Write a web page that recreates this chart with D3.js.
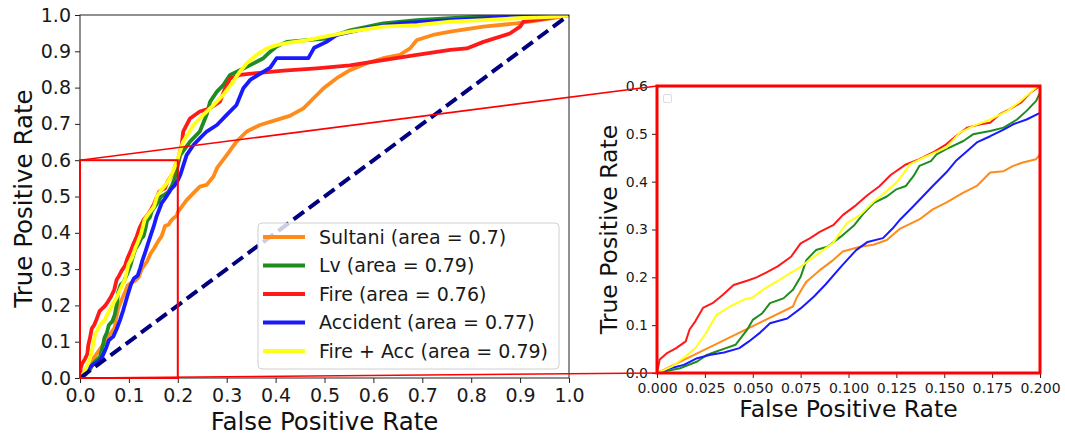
<!DOCTYPE html>
<html>
<head>
<meta charset="utf-8">
<script src="https://cdn.jsdelivr.net/npm/d3@7"></script>
<style>
  body { margin: 0; background: #fff; }
  svg { display: block; font-family: "DejaVu Sans", sans-serif; }
</style>
</head>
<body>
<div id="chart"></div>
<script>
// ROC points [false positive rate, true positive rate]
const sultani = [[0,0],[0.071,0.139],[0.073,0.158],[0.078,0.191],[0.085,0.215],[0.092,0.236],[0.097,0.254],[0.106,0.264],[0.113,0.268],[0.12,0.278],[0.127,0.302],[0.137,0.321],[0.144,0.342],[0.151,0.356],[0.16,0.377],[0.167,0.391],[0.174,0.419],[0.181,0.422],[0.186,0.433],[0.191,0.44],[0.198,0.447],[0.2,0.457],[0.218,0.49],[0.245,0.527],[0.259,0.532],[0.273,0.555],[0.28,0.578],[0.3,0.614],[0.32,0.651],[0.341,0.679],[0.368,0.697],[0.402,0.711],[0.429,0.722],[0.457,0.743],[0.477,0.77],[0.498,0.798],[0.525,0.826],[0.552,0.848],[0.586,0.867],[0.62,0.881],[0.654,0.89],[0.675,0.908],[0.689,0.931],[0.722,0.945],[0.757,0.954],[0.825,0.968],[0.893,0.977],[0.941,0.986],[0.988,0.996],[1,1]];

const lv = [[0,0],[0.012,0.01],[0.021,0.024],[0.026,0.038],[0.031,0.045],[0.036,0.052],[0.041,0.059],[0.047,0.09],[0.05,0.111],[0.055,0.125],[0.059,0.146],[0.066,0.156],[0.071,0.174],[0.075,0.201],[0.078,0.236],[0.083,0.257],[0.089,0.264],[0.096,0.285],[0.103,0.309],[0.108,0.334],[0.113,0.355],[0.12,0.369],[0.125,0.384],[0.13,0.391],[0.134,0.412],[0.137,0.433],[0.143,0.443],[0.146,0.457],[0.151,0.468],[0.16,0.485],[0.165,0.499],[0.174,0.506],[0.181,0.513],[0.188,0.53],[0.193,0.548],[0.198,0.569],[0.2,0.586],[0.205,0.614],[0.225,0.651],[0.245,0.679],[0.259,0.725],[0.266,0.761],[0.28,0.789],[0.293,0.807],[0.307,0.835],[0.327,0.848],[0.348,0.862],[0.375,0.881],[0.389,0.899],[0.402,0.913],[0.423,0.926],[0.464,0.931],[0.504,0.935],[0.552,0.958],[0.62,0.977],[0.689,0.986],[0.757,0.991],[0.825,0.996],[0.9,1],[1,1]];

const fire = [[0,0],[0.0014,0.028],[0.005,0.041],[0.01,0.052],[0.015,0.066],[0.017,0.091],[0.02,0.108],[0.024,0.136],[0.029,0.146],[0.034,0.162],[0.04,0.184],[0.047,0.193],[0.052,0.2],[0.057,0.21],[0.063,0.223],[0.07,0.243],[0.075,0.271],[0.08,0.282],[0.085,0.295],[0.092,0.309],[0.097,0.33],[0.104,0.351],[0.11,0.372],[0.116,0.39],[0.122,0.414],[0.13,0.436],[0.137,0.447],[0.144,0.461],[0.151,0.478],[0.156,0.495],[0.162,0.513],[0.169,0.52],[0.174,0.523],[0.179,0.541],[0.184,0.551],[0.19,0.565],[0.195,0.586],[0.2,0.6],[0.208,0.642],[0.211,0.679],[0.225,0.715],[0.245,0.734],[0.266,0.743],[0.286,0.761],[0.297,0.798],[0.307,0.825],[0.327,0.835],[0.361,0.84],[0.416,0.847],[0.484,0.853],[0.552,0.861],[0.62,0.876],[0.689,0.89],[0.757,0.904],[0.791,0.908],[0.825,0.926],[0.879,0.949],[0.9,0.968],[0.907,0.982],[0.95,0.99],[1,1]];

const accident = [[0,0],[0.007,0.01],[0.014,0.017],[0.021,0.031],[0.028,0.038],[0.035,0.043],[0.043,0.052],[0.048,0.066],[0.054,0.085],[0.059,0.104],[0.068,0.114],[0.075,0.135],[0.082,0.16],[0.088,0.185],[0.096,0.222],[0.104,0.257],[0.11,0.274],[0.118,0.282],[0.123,0.302],[0.127,0.321],[0.134,0.349],[0.139,0.37],[0.144,0.391],[0.151,0.419],[0.156,0.443],[0.162,0.464],[0.167,0.482],[0.174,0.495],[0.181,0.509],[0.186,0.52],[0.193,0.53],[0.2,0.544],[0.205,0.559],[0.218,0.614],[0.232,0.642],[0.245,0.66],[0.259,0.679],[0.28,0.697],[0.3,0.725],[0.32,0.752],[0.334,0.798],[0.348,0.821],[0.368,0.838],[0.389,0.855],[0.402,0.881],[0.467,0.881],[0.479,0.91],[0.504,0.926],[0.525,0.945],[0.586,0.963],[0.654,0.977],[0.757,0.986],[0.893,0.996],[0.988,1],[1,1]];

const fireAcc = [[0,0],[0.008,0.014],[0.015,0.035],[0.02,0.052],[0.025,0.08],[0.031,0.121],[0.038,0.139],[0.045,0.153],[0.05,0.158],[0.056,0.176],[0.062,0.19],[0.07,0.21],[0.075,0.222],[0.082,0.243],[0.092,0.272],[0.099,0.313],[0.106,0.33],[0.113,0.358],[0.117,0.37],[0.125,0.398],[0.129,0.419],[0.132,0.436],[0.139,0.45],[0.151,0.471],[0.158,0.502],[0.165,0.516],[0.174,0.53],[0.183,0.548],[0.19,0.569],[0.197,0.593],[0.2,0.605],[0.211,0.651],[0.232,0.697],[0.252,0.725],[0.273,0.752],[0.293,0.78],[0.313,0.816],[0.327,0.844],[0.341,0.867],[0.361,0.89],[0.382,0.908],[0.402,0.917],[0.429,0.924],[0.464,0.931],[0.498,0.94],[0.532,0.949],[0.552,0.954],[0.62,0.968],[0.689,0.972],[0.757,0.982],[0.825,0.986],[0.893,0.991],[0.988,0.996],[1,1]];

const chance = [[0,0],[1,1]];

const seriesLabels = ['Sultani (area = 0.7)', 'Lv (area = 0.79)', 'Fire (area = 0.76)', 'Accident (area = 0.77)', 'Fire + Acc (area = 0.79)'];
const seriesColors = ['#ff8c1a', '#1e8c1e', '#ff1a1a', '#1a1aff', '#ffff1a'];
const seriesData = [sultani, lv, fire, accident, fireAcc];

const mainTicks = [0, 0.1, 0.2, 0.3, 0.4, 0.5, 0.6, 0.7, 0.8, 0.9, 1.0];
const insetXTicks = [0, 0.025, 0.05, 0.075, 0.1, 0.125, 0.15, 0.175, 0.2];
const insetYTicks = [0, 0.1, 0.2, 0.3, 0.4, 0.5, 0.6];
const zoomBox = { x: [0, 0.2], y: [0, 0.6] };

const width = 1065, height = 437;

const svg = d3.select('#chart').append('svg')
    .attr('width', width)
    .attr('height', height);

const main = { left: 80, right: 569, top: 15, bottom: 378 };
const inset = { left: 657, right: 1040, top: 86, bottom: 373 };

const mx = d3.scaleLinear().domain([0, 1]).range([main.left, main.right]);
const my = d3.scaleLinear().domain([0, 1]).range([main.bottom, main.top]);
const ix = d3.scaleLinear().domain(zoomBox.x).range([inset.left, inset.right]);
const iy = d3.scaleLinear().domain(zoomBox.y).range([inset.bottom, inset.top]);

function clipRect(id, box) {
    svg.append('clipPath').attr('id', id)
        .append('rect')
        .attr('x', box.left).attr('y', box.top)
        .attr('width', box.right - box.left).attr('height', box.bottom - box.top);
}
clipRect('clip-main', main);
clipRect('clip-inset', inset);

function drawAxes(box, xs, ys, xTicks, yTicks, xFmt, yFmt, fontSize) {
    const g = svg.append('g').attr('font-size', fontSize + 'px').attr('fill', '#111');

    const xAxis = g.append('g')
        .attr('transform', `translate(0,${box.bottom})`)
        .call(d3.axisBottom(xs).tickValues(xTicks).tickFormat(d3.format(xFmt)).tickSize(5).tickSizeOuter(0).tickPadding(fontSize > 15 ? 6 : 5));
    const yAxis = g.append('g')
        .attr('transform', `translate(${box.left},0)`)
        .call(d3.axisLeft(ys).tickValues(yTicks).tickFormat(d3.format(yFmt)).tickSize(5).tickSizeOuter(0).tickPadding(fontSize > 15 ? 4 : 4));

    [xAxis, yAxis].forEach(a => {
        a.select('.domain').remove();
        a.attr('font-family', '"DejaVu Sans", sans-serif').attr('font-size', fontSize + 'px');
        a.selectAll('.tick line').attr('stroke', '#222');
        a.selectAll('.tick text').attr('fill', '#1a1a1a');
    });
}

function drawCurves(xs, ys, clipId, lineWidth) {
    const line = d3.line().x(d => xs(d[0])).y(d => ys(d[1]));
    const g = svg.append('g').attr('clip-path', `url(#${clipId})`);
    seriesData.forEach((series, i) => {
        g.append('path')
            .datum(series)
            .attr('d', line)
            .attr('fill', 'none')
            .attr('stroke', seriesColors[i])
            .attr('stroke-width', lineWidth)
            .attr('stroke-linejoin', 'round');
    });
    return g;
}

// main panel
drawAxes(main, mx, my, mainTicks, mainTicks, '.1f', '.1f', 19);
const mainCurves = drawCurves(mx, my, 'clip-main', 3.8);

mainCurves.append('path')
    .datum(chance)
    .attr('d', d3.line().x(d => mx(d[0])).y(d => my(d[1])))
    .attr('stroke', '#000080')
    .attr('stroke-width', 4)
    .attr('stroke-dasharray', '13,6');

svg.append('rect')
    .attr('x', main.left).attr('y', main.top)
    .attr('width', main.right - main.left).attr('height', main.bottom - main.top)
    .attr('fill', 'none').attr('stroke', '#222').attr('stroke-width', 1);

// legend
const legendRows = seriesLabels.map((label, i) => ({ label, color: seriesColors[i] }));
const legend = svg.append('g');
legend.append('rect')
    .attr('x', 258).attr('y', 223).attr('width', 301).attr('height', 146)
    .attr('rx', 4)
    .attr('fill', '#fff').attr('fill-opacity', 0.8)
    .attr('stroke', '#d0d0d0');
const row = legend.selectAll('.row')
    .data(legendRows)
    .enter().append('g')
    .attr('class', 'row')
    .attr('transform', (d, i) => `translate(0,${237 + i * 28.5})`);
row.append('line')
    .attr('x1', 263).attr('x2', 305)
    .attr('stroke', d => d.color).attr('stroke-width', 4);
row.append('text')
    .attr('x', 319).attr('dy', '0.36em')
    .attr('font-size', '19px').attr('fill', '#1a1a1a')
    .text(d => d.label);

// inset panel
drawAxes(inset, ix, iy, insetXTicks, insetYTicks, '.3f', '.1f', 14);
drawCurves(ix, iy, 'clip-inset', 2);

svg.append('rect')
    .attr('x', 663.5).attr('y', 94.5).attr('width', 8).attr('height', 8).attr('rx', 1.5)
    .attr('fill', 'none').attr('stroke', '#dddddd');

// zoom marker and connectors
svg.append('rect')
    .attr('x', mx(zoomBox.x[0])).attr('y', my(zoomBox.y[1]))
    .attr('width', mx(zoomBox.x[1]) - mx(zoomBox.x[0]))
    .attr('height', my(zoomBox.y[0]) - my(zoomBox.y[1]))
    .attr('fill', 'none').attr('stroke', 'red').attr('stroke-width', 2);

svg.append('line')
    .attr('x1', mx(zoomBox.x[0])).attr('y1', my(zoomBox.y[1]))
    .attr('x2', inset.left).attr('y2', inset.top)
    .attr('stroke', 'red').attr('stroke-width', 1.6);
svg.append('line')
    .attr('x1', mx(zoomBox.x[0])).attr('y1', my(zoomBox.y[0]))
    .attr('x2', inset.left).attr('y2', inset.bottom)
    .attr('stroke', 'red').attr('stroke-width', 1.6);

svg.append('rect')
    .attr('x', inset.left).attr('y', inset.top)
    .attr('width', inset.right - inset.left).attr('height', inset.bottom - inset.top)
    .attr('fill', 'none').attr('stroke', 'red').attr('stroke-width', 3);

// axis titles
const titles = svg.append('g').attr('fill', '#111');
titles.append('text')
    .attr('x', (main.left + main.right) / 2).attr('y', 430)
    .attr('text-anchor', 'middle').attr('font-size', '24.5px')
    .text('False Positive Rate');
titles.append('text')
    .attr('transform', `translate(32,${(main.top + main.bottom) / 2 + 2}) rotate(-90)`)
    .attr('text-anchor', 'middle').attr('font-size', '24.5px')
    .text('True Positive Rate');
titles.append('text')
    .attr('x', (inset.left + inset.right) / 2).attr('y', 417)
    .attr('text-anchor', 'middle').attr('font-size', '23.5px')
    .text('False Positive Rate');
titles.append('text')
    .attr('transform', `translate(617,${(inset.top + inset.bottom) / 2}) rotate(-90)`)
    .attr('text-anchor', 'middle').attr('font-size', '23.5px')
    .text('True Positive Rate');
</script>
</body>
</html>
